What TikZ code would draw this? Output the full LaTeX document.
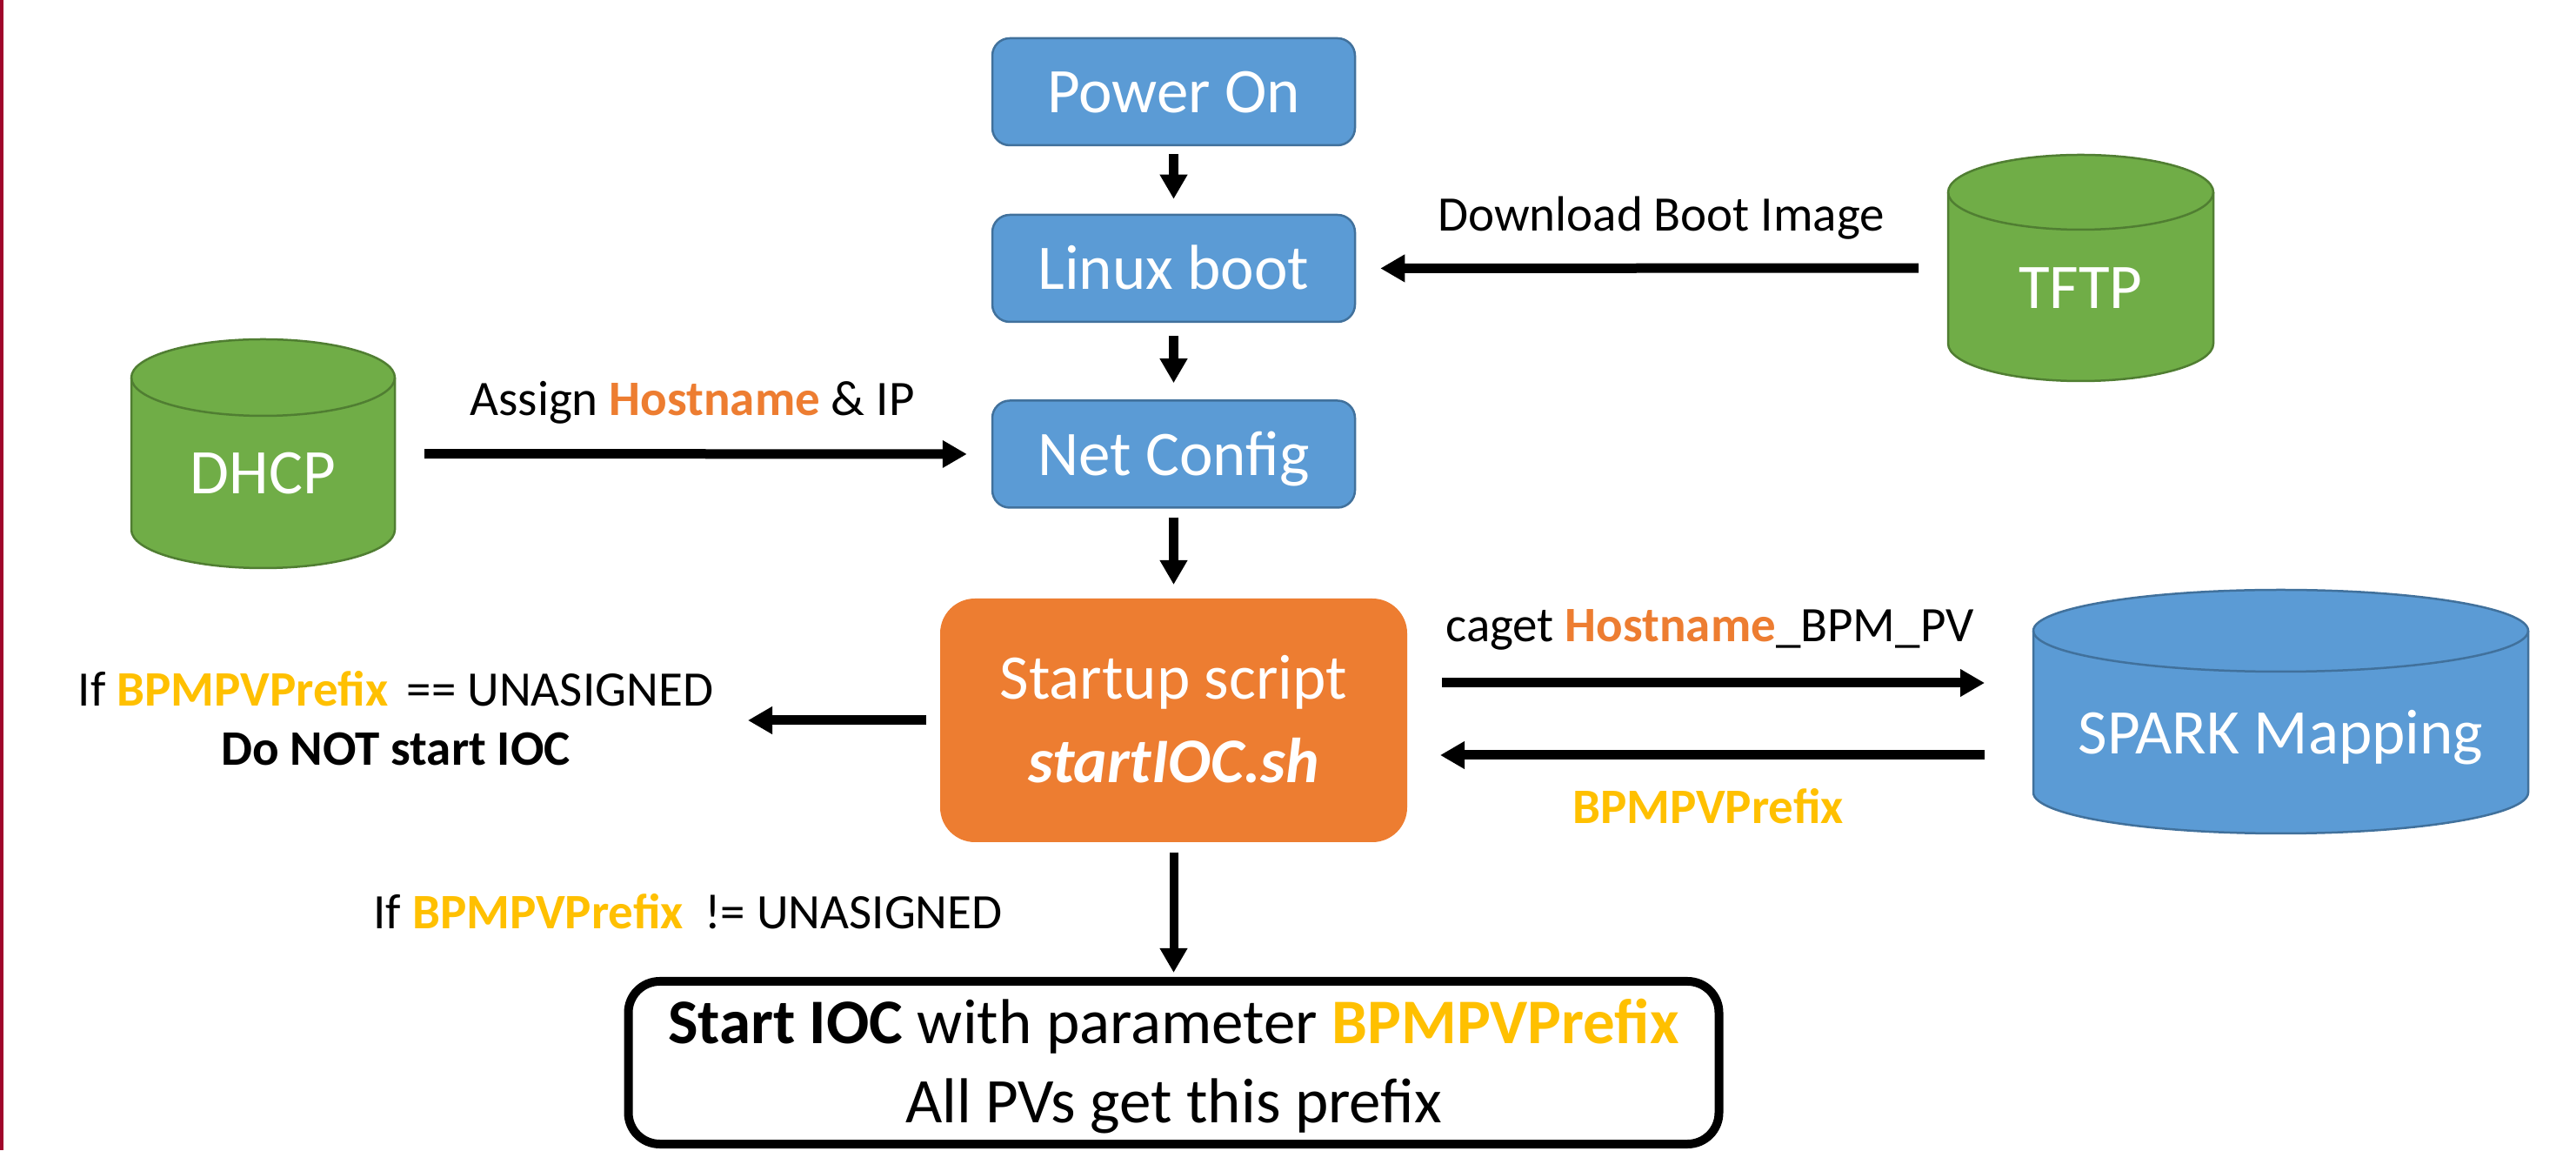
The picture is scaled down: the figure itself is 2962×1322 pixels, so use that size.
\documentclass[tikz,border=0pt]{standalone}
\usepackage{fontspec}
\setmainfont{Carlito}
\usetikzlibrary{arrows.meta,calc}

\definecolor{boxblue}{HTML}{5B9BD5}
\definecolor{boxblueline}{HTML}{41719C}
\definecolor{dbgreen}{HTML}{70AD47}
\definecolor{dbgreenline}{HTML}{507E32}
\definecolor{scriptorange}{HTML}{ED7D31}
\definecolor{prefixyellow}{HTML}{FFC000}
\definecolor{edgered}{HTML}{A0062B}

% coloured keywords
\newcommand{\hn}[1]{\textbf{\textcolor{scriptorange}{#1}}}
\newcommand{\pv}[1]{\textbf{\textcolor{prefixyellow}{#1}}}

% database drum drawn over an invisible named node: #1 node, #2 ellipse half-height, #3 fill, #4 outline
\newcommand{\drumdraw}[4]{%
  \draw[line width=2.5pt, fill=#3, draw=#4]
    let \p1=(#1.north west), \p2=(#1.south east), \n1={(\x2-\x1)/2} in
    (\x1,\y1-#2pt) -- (\x1,\y2+#2pt)
    arc[start angle=180, end angle=360, x radius=\n1, y radius=#2pt]
    -- (\x2,\y1-#2pt)
    arc[start angle=0, end angle=180, x radius=\n1, y radius=#2pt] -- cycle;
  \draw[line width=2.5pt, draw=#4]
    let \p1=(#1.north west), \p2=(#1.south east), \n1={(\x2-\x1)/2} in
    (\x1,\y1-#2pt)
    arc[start angle=180, end angle=360, x radius=\n1, y radius=#2pt];
}

\tikzset{
  stepbox/.style={rectangle, rounded corners=20pt, fill=boxblue, draw=boxblueline,
    line width=2.5pt, minimum width=417pt, minimum height=123pt, inner sep=0pt,
    text=white, font=\fontsize{73}{88}\selectfont, text height=49pt, text depth=0pt},
  scriptbox/.style={rectangle, rounded corners=40pt, fill=scriptorange, draw=none,
    outer sep=0pt, minimum width=537pt, minimum height=280pt, inner sep=0pt,
    text=white, align=center, font=\fontsize{73}{96}\selectfont,
    text height=144pt, text depth=0pt},
  iocbox/.style={rectangle, rounded corners=36pt, fill=white, draw=black,
    line width=10pt, minimum width=1254pt, minimum height=187pt, inner sep=0pt,
    align=center, font=\fontsize{73}{90}\selectfont, text height=137pt, text depth=0pt},
  dbbox/.style={rectangle, draw=none, inner sep=0pt, outer sep=0pt},
  dbtext/.style={anchor=base, inner sep=0pt, text=white, font=\fontsize{73}{88}\selectfont},
  lbl/.style={anchor=base, inner sep=0pt, font=\fontsize{57}{68}\selectfont},
  flow/.style={draw=black, line width=11pt, -{Triangle[length=28pt,width=30pt]}}
}

\begin{document}
\begin{tikzpicture}[x=1pt, y=1pt]
  \useasboundingbox (0,0) rectangle (2962,1322);
  \fill[white] (0,0) rectangle (2962,1322);
  \fill[edgered] (0,0) rectangle (4,1322);

  % boot sequence
  \node[stepbox] (power) at (1349.5,1216.5) {Power On};
  \node[stepbox] (linux) at (1349.5,1013.5) {Linux boot};
  \node[stepbox] (net)   at (1349.5,800) {Net Config};
  \node[scriptbox] (startup) at (1349.5,494) {Startup script\\\textbf{\textit{startIOC.sh}}};
  \node[iocbox] (ioc) at (1349.5,100.5)
    {\textbf{Start IOC} with parameter \pv{BPMPVPrefix}\\All PVs get this prefix};

  % servers
  \node[dbbox, minimum width=305pt, minimum height=260pt] (tftp) at (2392.5,1014) {};
  \drumdraw{tftp}{43}{dbgreen}{dbgreenline}
  \node[dbtext] (tftplabel) at (2392.5,967) {TFTP};

  \node[dbbox, minimum width=303pt, minimum height=263pt] (dhcp) at (302.5,800.5) {};
  \drumdraw{dhcp}{44}{dbgreen}{dbgreenline}
  \node[dbtext] (dhcplabel) at (302.5,754) {DHCP};

  \node[dbbox, minimum width=569pt, minimum height=280pt] (spark) at (2622.5,504) {};
  \drumdraw{spark}{47}{boxblue}{boxblueline}
  \node[dbtext] (sparklabel) at (2622.5,455) {SPARK Mapping};

  % labels
  \node[lbl] (dllabel) at (1910,1056) {Download Boot Image};
  \node[lbl] (assignlabel) at (796,844) {Assign \hn{Hostname} \& IP};
  \node[lbl] (cagetlabel) at (1966,584) {caget \hn{Hostname}\_BPM\_PV};
  \node[lbl] (retlabel) at (1964,375) {\pv{BPMPVPrefix}};
  \node[lbl, align=center] (nostart) at (455,442)
    {If \pv{BPMPVPrefix}\hspace{0.15em} == UNASIGNED\\\textbf{Do NOT start IOC}};
  \node[lbl] (gostart) at (791,254) {If \pv{BPMPVPrefix}\hspace{0.2em} != UNASIGNED};

  % connectors
  \draw[flow, shorten <=9pt, shorten >=17pt] (power) -- (linux);
  \draw[flow, shorten <=15pt, shorten >=19pt] (linux) -- (net);
  \draw[flow, shorten <=10pt, shorten >=16pt] (net) -- (startup);
  \draw[flow, line width=10pt, shorten <=12pt, shorten >=5pt] (startup) -- (ioc);
  \draw[flow, shorten <=34pt, shorten >=28pt] (tftp.west) -- (linux.east);
  \draw[flow, shorten <=34pt, shorten >=28pt] (dhcp.east) -- (net.west);
  \coordinate (stoptip) at (860,494);
  \draw[flow, shorten <=16pt] (startup.west) -- (stoptip);
  \draw[flow, shorten <=40pt, shorten >=56pt] ([yshift=43pt]startup.east) -- ([yshift=33pt]spark.west);
  \draw[flow, shorten <=56pt, shorten >=38pt] ([yshift=-50pt]spark.west) -- ([yshift=-40pt]startup.east);
\end{tikzpicture}
\end{document}
